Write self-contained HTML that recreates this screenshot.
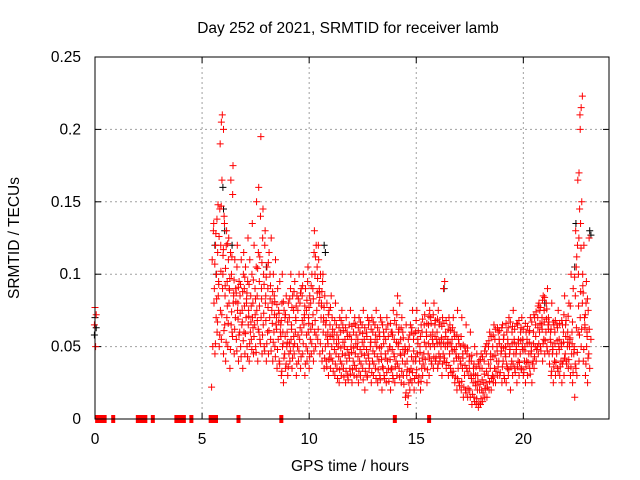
<!DOCTYPE html>
<html><head><meta charset="utf-8"><style>
body{margin:0;background:#fff}
svg{display:block;font-family:"Liberation Sans",sans-serif}
</style></head><body>
<svg id="chart" width="640" height="480" viewBox="0 0 640 480" xmlns="http://www.w3.org/2000/svg">
<rect width="640" height="480" fill="#fff"/>
<text x="348" y="33" font-size="15.5" text-anchor="middle">Day 252 of 2021, SRMTID for receiver lamb</text>
<text transform="translate(19,238) rotate(-90)" font-size="15.5" text-anchor="middle">SRMTID / TECUs</text>
<text x="350" y="471" font-size="15.5" text-anchor="middle">GPS time / hours</text>
<g id="grid"></g><g id="ticks"></g><g id="marks"></g>
<rect x="95" y="57" width="514" height="362" fill="none" stroke="#000" stroke-width="1"/>
</svg>
<script>
const xTicks=[0,5,10,15,20];
const yTicks=[0,0.05,0.1,0.15,0.2,0.25];
const yTickLabels=["0","0.05","0.1","0.15","0.2","0.25"];
const zeroTimes=[0.1,0.15,0.2,0.25,0.3,0.35,0.4,0.45,0.85,2.0,2.05,2.1,2.15,2.2,2.25,2.3,2.35,2.7,3.8,3.85,3.9,3.95,4.0,4.05,4.1,4.15,4.5,5.4,5.45,5.5,5.55,5.6,5.65,6.7,8.7,14.0,15.6];
const blackGroups=[[0,.07,.063,.058],[5.6,.12,.1],[6.0,.145,.13,.16],[6.4,.12],[8.0,.105],[10.7,.12,.115],[16.3,.09],[21,.08],[22.4,.105,.135],[23.1,.13,.127]];
const redGroups=[
[0,.077,.072,.065,.05],
[5.5,.05,.08,.11,.13,.022],[5.6,.045,.07,.09,.12,.135],[5.7,.06,.085,.1,.115,.128],[5.8,.05,.075,.095,.145,.148],[5.9,.055,.09,.12,.165,.19,.205],[6.0,.045,.065,.1,.14,.21,.2],[6.1,.04,.07,.085,.12,.135],[6.2,.05,.08,.095,.11,.13],[6.3,.035,.065,.09,.115,.125],[6.4,.06,.08,.1,.155,.165],[6.5,.045,.07,.085,.11,.175],[6.6,.055,.075,.09,.105],[6.7,.04,.06,.08,.095,.12],[6.8,.05,.065,.085,.11],[6.9,.035,.06,.075,.1],[7.0,.045,.07,.09,.105,.115],[7.1,.05,.065,.08,.095],[7.2,.04,.06,.075,.11,.125],[7.3,.055,.07,.085,.1],[7.4,.045,.065,.08,.12,.135],[7.5,.05,.075,.09,.105],[7.6,.04,.06,.085,.115,.15],[7.7,.055,.07,.095,.14,.16],[7.8,.045,.065,.09,.125,.195],[7.9,.05,.08,.1,.12,.145],[8.0,.04,.06,.085,.105,.13],[8.1,.045,.07,.09,.115],[8.2,.055,.075,.1,.125],[8.3,.04,.06,.08,.1],[8.4,.05,.065,.085,.11],[8.5,.035,.055,.07,.09],[8.6,.04,.06,.075,.095],[8.7,.03,.05,.065,.08],[8.8,.025,.045,.06,.075,.1],[8.9,.035,.05,.07,.085],[9.0,.03,.045,.06,.08],[9.1,.04,.055,.07,.09],[9.2,.035,.05,.065,.085,.1],[9.3,.045,.06,.075,.095],[9.4,.03,.05,.07,.085],[9.5,.04,.055,.075,.1],[9.6,.035,.06,.08,.09],[9.7,.045,.065,.085,.1],[9.8,.03,.05,.07,.09],[9.9,.04,.06,.075,.095],[10.0,.035,.055,.07,.085,.105],[10.1,.045,.065,.08,.1],[10.2,.04,.06,.09,.115],[10.3,.05,.075,.1,.12,.13],[10.4,.055,.08,.105,.12],[10.5,.045,.07,.09,.1,.11],[10.6,.04,.06,.08,.095],[10.7,.035,.05,.07,.085,.1],[10.8,.04,.055,.065,.08],[10.9,.03,.045,.06,.075],[11.0,.035,.05,.065,.085],[11.1,.04,.055,.07],[11.2,.03,.045,.06,.08],[11.3,.035,.05,.065],[11.4,.025,.04,.055,.07],[11.5,.03,.045,.06,.075],[11.6,.035,.05,.065],[11.7,.025,.04,.055,.07],[11.8,.03,.045,.06],[11.9,.035,.05,.065,.075],[12.0,.025,.04,.055],[12.1,.03,.045,.06,.07],[12.2,.035,.05,.065],[12.3,.025,.04,.055,.07],[12.4,.03,.045,.06],[12.5,.035,.05,.065,.075],[12.6,.02,.04,.055],[12.7,.03,.045,.06,.07],[12.8,.035,.05,.065],[12.9,.025,.04,.055,.07],[13.0,.03,.045,.06],[13.1,.035,.05,.065,.075],[13.2,.025,.04,.055],[13.3,.03,.045,.06,.07],[13.4,.02,.035,.05,.065],[13.5,.03,.045,.06],[13.6,.025,.04,.055,.07],[13.7,.035,.05,.065],[13.8,.02,.035,.05,.06],[13.9,.03,.045,.06,.075],[14.0,.025,.04,.055],[14.1,.03,.05,.065,.085],[14.2,.035,.045,.06,.08],[14.3,.025,.04,.055,.07],[14.4,.03,.045,.06],[14.5,.015,.03,.05,.065],[14.6,.01,.025,.04,.055],[14.7,.02,.035,.05,.065],[14.8,.025,.04,.06,.075],[14.9,.02,.04,.055],[15.0,.03,.045,.06,.075],[15.1,.025,.04,.055],[15.2,.02,.035,.05,.065],[15.3,.03,.045,.06],[15.4,.035,.05,.065,.08],[15.5,.025,.045,.06],[15.6,.03,.05,.065,.075],[15.7,.04,.055,.07],[15.8,.035,.05,.06,.08],[15.9,.04,.055,.065],[16.0,.035,.045,.06,.075],[16.1,.04,.05,.065],[16.2,.03,.045,.055,.07],[16.3,.04,.05,.09,.095],[16.4,.035,.05,.06],[16.5,.03,.045,.055,.07],[16.6,.035,.05,.065],[16.7,.03,.04,.055,.07],[16.8,.025,.045,.06],[16.9,.02,.035,.05,.075],[17.0,.025,.04,.055],[17.1,.02,.035,.05,.07],[17.2,.015,.03,.045],[17.3,.02,.035,.05,.065],[17.4,.015,.03,.045],[17.5,.02,.03,.04,.06],[17.6,.01,.025,.04],[17.7,.015,.025,.035,.05],[17.8,.01,.02,.03,.045],[17.9,.008,.02,.03,.04],[18.0,.01,.02,.035,.045],[18.1,.012,.025,.035],[18.2,.015,.025,.04,.05],[18.3,.015,.03,.045],[18.4,.02,.035,.05,.06],[18.5,.02,.03,.045],[18.6,.025,.035,.05,.065],[18.7,.025,.04,.055],[18.8,.03,.04,.05,.06],[18.9,.03,.045,.055],[19.0,.025,.04,.05,.065],[19.1,.03,.045,.055],[19.2,.025,.035,.05,.06],[19.3,.03,.045,.055,.07],[19.4,.02,.04,.05],[19.5,.03,.045,.06,.075],[19.6,.035,.045,.055],[19.7,.025,.04,.05,.065],[19.8,.03,.045,.055],[19.9,.035,.05,.06,.07],[20.0,.03,.04,.055],[20.1,.025,.04,.05,.06],[20.2,.03,.045,.055],[20.3,.035,.045,.06,.07],[20.4,.025,.04,.05],[20.5,.035,.05,.06,.07],[20.6,.04,.05,.065],[20.7,.045,.06,.07,.08],[20.8,.05,.065,.075],[20.9,.04,.055,.07,.085],[21.0,.045,.06,.075],[21.1,.05,.065,.08,.09],[21.2,.045,.055,.07],[21.3,.03,.045,.06,.08],[21.4,.025,.04,.05,.065],[21.5,.03,.045,.06],[21.6,.035,.05,.065,.075],[21.7,.03,.04,.055],[21.8,.025,.04,.05,.065],[21.9,.03,.045,.06,.085],[22.0,.04,.05,.065],[22.1,.035,.05,.06,.08],[22.2,.03,.045,.055,.1],[22.3,.025,.045,.06,.09],[22.4,.015,.035,.05,.085],[22.5,.03,.06,.105,.12,.13],[22.6,.04,.07,.1,.145,.165,.17,.2],[22.7,.05,.08,.135,.15,.21,.215,.223],[22.8,.04,.07,.1,.12],[22.9,.03,.05,.065,.08],[23.0,.025,.045,.06,.075,.095],[23.1,.035,.055,.125]
];
const redGroupsB=[
[5.65,.052,.083,.107],[5.75,.067,.093,.138],[5.85,.058,.102,.126],[5.95,.072,.113,.147],[6.05,.061,.092,.117],[6.15,.053,.078,.104],[6.25,.066,.089,.121],[6.35,.048,.074,.097],[6.45,.057,.087,.112],[6.55,.062,.081,.096],[6.65,.047,.069,.087],[6.75,.058,.073,.091],[6.85,.043,.067,.093],[6.95,.054,.078,.088],[7.05,.059,.083,.098],[7.15,.043,.071,.087],[7.25,.052,.067,.093],[7.35,.048,.063,.078],[7.45,.057,.072,.096],[7.55,.046,.068,.083],[7.65,.062,.078,.104],[7.75,.052,.083,.112],[7.85,.058,.073,.108],[7.95,.047,.068,.093],[8.05,.052,.077,.098],[8.15,.061,.083,.108],[8.25,.047,.066,.092],[8.35,.053,.072,.088],[8.45,.043,.062,.081],[8.55,.048,.067,.079],[8.65,.038,.057,.073],[8.75,.033,.052,.068],[8.85,.042,.057,.081],[8.95,.038,.053,.072],[9.05,.036,.052,.067],[9.15,.047,.062,.083],[9.25,.042,.057,.077],[9.35,.052,.068,.088],[9.45,.038,.058,.078],[9.55,.047,.063,.083],[9.65,.043,.068,.087],[9.75,.052,.072,.092],[9.85,.038,.058,.078],[9.95,.047,.066,.082],[10.05,.043,.062,.077],[10.15,.052,.072,.092],[10.25,.047,.068,.083],[10.35,.058,.087,.112],[10.45,.062,.088,.097],[10.55,.052,.078,.084],[10.65,.047,.067,.088],[10.75,.042,.058,.077],[10.85,.036,.052,.068],[10.95,.041,.057,.072],[11.05,.042,.058,.077],[11.15,.033,.048,.062],[11.25,.038,.052,.068],[11.35,.028,.043,.058],[11.45,.034,.049,.063],[11.55,.038,.053,.068],[11.65,.029,.044,.061],[11.75,.033,.048,.063],[11.85,.027,.042,.057],[11.95,.031,.046,.058],[12.05,.034,.049,.064],[12.15,.037,.052,.066],[12.25,.029,.043,.058],[12.35,.033,.048,.063],[12.45,.038,.053,.067],[12.55,.027,.044,.059],[12.65,.033,.048,.063],[12.75,.029,.042,.057],[12.85,.038,.053,.068],[12.95,.032,.047,.062],[13.05,.038,.053,.067],[13.15,.028,.043,.058],[13.25,.034,.049,.063],[13.35,.027,.041,.057],[13.45,.036,.052,.067],[13.55,.028,.042,.057],[13.65,.032,.047,.062],[13.75,.026,.041,.057],[13.85,.034,.048,.066],[13.95,.028,.043,.058],[14.05,.036,.053,.068],[14.15,.038,.052,.072],[14.25,.029,.044,.062],[14.35,.033,.048,.063],[14.45,.024,.038,.056],[14.55,.018,.034,.048],[14.65,.016,.033,.047],[14.75,.027,.043,.058],[14.85,.032,.047,.063],[14.95,.028,.043,.059],[15.05,.034,.052,.068],[15.15,.029,.046,.061],[15.25,.026,.042,.057],[15.35,.038,.053,.069],[15.45,.041,.057,.072],[15.55,.034,.052,.066],[15.65,.042,.058,.071],[15.75,.038,.052,.066],[15.85,.043,.057,.072],[15.95,.042,.052,.068],[16.05,.038,.053,.069],[16.15,.043,.056,.067],[16.25,.038,.052,.064],[16.35,.042,.057,.066],[16.45,.039,.053,.068],[16.55,.037,.052,.062],[16.65,.032,.047,.061],[16.75,.033,.048,.063],[16.85,.029,.042,.057],[16.95,.028,.043,.058],[17.05,.023,.038,.052],[17.15,.026,.042,.057],[17.25,.022,.037,.051],[17.35,.018,.033,.047],[17.45,.021,.035,.049],[17.55,.015,.028,.043],[17.65,.017,.031,.044],[17.75,.012,.023,.038],[17.85,.014,.026,.036],[17.95,.011,.024,.038],[18.05,.014,.027,.041],[18.15,.018,.031,.043],[18.25,.021,.033,.047],[18.35,.022,.038,.052],[18.45,.026,.041,.054],[18.55,.028,.043,.057],[18.65,.029,.044,.058],[18.75,.033,.047,.062],[18.85,.036,.052,.063],[18.95,.032,.047,.061],[19.05,.036,.049,.063],[19.15,.028,.043,.058],[19.25,.038,.052,.066],[19.35,.034,.048,.063],[19.45,.036,.052,.067],[19.55,.038,.053,.064],[19.65,.032,.048,.062],[19.75,.036,.052,.066],[19.85,.039,.054,.068],[19.95,.034,.048,.063],[20.05,.032,.047,.062],[20.15,.036,.052,.066],[20.25,.039,.053,.064],[20.35,.031,.047,.061],[20.45,.038,.052,.067],[20.55,.043,.057,.072],[20.65,.048,.063,.074],[20.75,.052,.066,.078],[20.85,.047,.062,.077],[20.95,.052,.067,.082],[21.05,.054,.069,.084],[21.15,.047,.062,.076],[21.25,.038,.053,.067],[21.35,.033,.048,.062],[21.45,.036,.052,.067],[21.55,.039,.054,.068],[21.65,.033,.048,.063],[21.75,.036,.052,.066],[21.85,.038,.053,.068],[21.95,.042,.057,.072],[22.05,.038,.053,.068],[22.15,.041,.056,.071],[22.25,.036,.052,.078],[22.35,.032,.048,.067],[22.45,.038,.063,.098],[22.55,.046,.078,.112],[22.65,.058,.088,.125],[22.75,.062,.092,.118],[22.85,.048,.063,.087],[22.95,.038,.057,.072],[23.05,.042,.062,.083]
];
const NS="http://www.w3.org/2000/svg";
const X0=95,X1=609,Y0=419,Y1=57,XMAX=24,YMAX=0.25;
function xs(t){return X0+t/XMAX*(X1-X0);}
function ys(v){return Y0-v/YMAX*(Y0-Y1);}
const grid=document.getElementById('grid'),ticks=document.getElementById('ticks'),marks=document.getElementById('marks');
function mk(tag,attrs,parent){const e=document.createElementNS(NS,tag);for(const k in attrs)e.setAttribute(k,attrs[k]);parent.appendChild(e);return e;}
xTicks.forEach(t=>{
  const x=xs(t);
  if(t>0){const g=mk('line',{x1:x,x2:x,y1:Y1,y2:Y0,stroke:'#a0a0a0','stroke-dasharray':'2,3'},grid);
  
  }
  mk('line',{x1:x,x2:x,y1:Y0,y2:Y0-6,stroke:'#000'},ticks);
  mk('line',{x1:x,x2:x,y1:Y1,y2:Y1+6,stroke:'#000'},ticks);
  const l=mk('text',{x:x,y:444,'font-size':15.5,'text-anchor':'middle'},ticks);l.textContent=t;
  
  
});
yTicks.forEach((v,i)=>{
  const y=ys(v);
  if(v>0&&v<YMAX){const g=mk('line',{x1:X0,x2:X1,y1:y,y2:y,stroke:'#a0a0a0','stroke-dasharray':'2,3'},grid);
  
  }
  mk('line',{x1:X0,x2:X0+6,y1:y,y2:y,stroke:'#000'},ticks);
  mk('line',{x1:X1,x2:X1-6,y1:y,y2:y,stroke:'#000'},ticks);
  const l=mk('text',{x:81,y:y+5,'font-size':15.5,'text-anchor':'end'},ticks);l.textContent=yTickLabels[i];
  
  
});
function plus(t,v,color,name,k){
  const x=xs(t)+(((k*7)%5)-2)*0.6,y=ys(v),s=3.5;
  const p=mk('path',{d:`M${x-s},${y}H${x+s}M${x},${y-s}V${y+s}`,stroke:color,'stroke-width':1,fill:'none'},marks);
  
  
}
blackGroups.forEach(g=>{for(let i=1;i<g.length;i++)plus(g[0],g[i],'#000','black-point',i);});
redGroups.forEach(g=>{for(let i=1;i<g.length;i++)plus(g[0],g[i],'#f00','red-point',i);});
redGroupsB.forEach(g=>{for(let i=1;i<g.length;i++)plus(g[0],g[i],'#f00','red-point',i+2);});
zeroTimes.forEach(t=>{
  const x=xs(t);
  const r=mk('rect',{x:x-2,y:Y0-4,width:4,height:8,fill:'#f00'},marks);
  
  
});
</script>
</body></html>
